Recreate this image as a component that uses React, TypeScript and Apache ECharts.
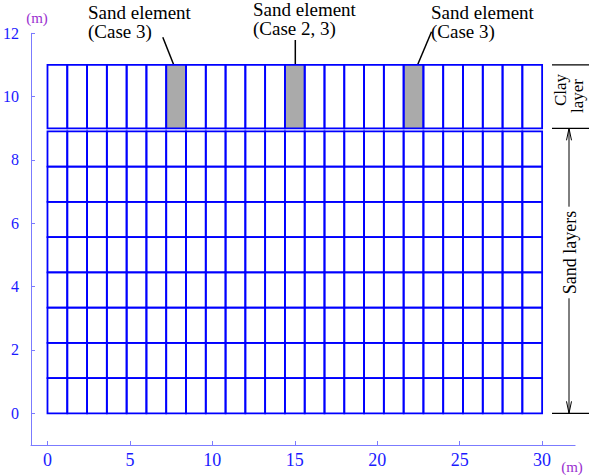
import React, { useEffect, useRef } from "react";
import * as echarts from "echarts";

// Mesh node coordinates (m)
const xNodes = [0, 1.2, 2.4, 3.6, 4.8, 6, 7.2, 8.4, 9.6, 10.8, 12, 13.2, 14.4, 15.6, 16.8, 18, 19.2, 20.4, 21.6, 22.8, 24, 25.2, 26.4, 27.6, 28.8, 30];
const sandLayerNodes = [0, 1.1125, 2.225, 3.3375, 4.45, 5.5625, 6.675, 7.7875, 8.9];
const clayLayerNodes = [9, 11];
// Column indices of the sand elements inside the clay layer
const sandElementColumns = [6, 12, 18];
const sandElementLabels = ["Sand element\n(Case 3)", "Sand element\n(Case 2, 3)", "Sand element\n(Case 3)"];
const xTicks = [0, 5, 10, 15, 20, 25, 30];
const yTicks = [0, 2, 4, 6, 8, 10, 12];

const FONT = "Liberation Serif";
const MESH = "#0000ff";
const AXIS = "#7b7bff";
const LABEL = "#1a1aff";
const UNIT = "#9a2fd0";

export default function App() {
  const ref = useRef<HTMLDivElement>(null);
  useEffect(() => {
    if (!ref.current) return;
    const chart = echarts.init(ref.current, null, { renderer: "svg" });

    const meshCells: number[][] = [];
    for (let i = 0; i < xNodes.length - 1; i++) {
      for (let j = 0; j < sandLayerNodes.length - 1; j++) {
        meshCells.push([xNodes[i], xNodes[i + 1], sandLayerNodes[j], sandLayerNodes[j + 1]]);
      }
      meshCells.push([xNodes[i], xNodes[i + 1], clayLayerNodes[0], clayLayerNodes[1]]);
    }
    const shadedCells = sandElementColumns.map((c) => [xNodes[c], xNodes[c + 1], clayLayerNodes[0], clayLayerNodes[1]]);

    const rectItem = (fill: string, stroke: string, lw: number) => (params: any, api: any) => {
      const p0 = api.coord([api.value(0), api.value(3)]);
      const p1 = api.coord([api.value(1), api.value(2)]);
      return {
        type: "rect",
        shape: { x: p0[0], y: p0[1], width: p1[0] - p0[0], height: p1[1] - p0[1] },
        style: { fill, stroke, lineWidth: lw },
      };
    };

    chart.setOption({
      animation: false,
      backgroundColor: "#ffffff",
      textStyle: { fontFamily: FONT },
      grid: { left: 29.5, right: 13.9, top: 33.3, bottom: 30, containLabel: false },
      xAxis: {
        type: "value",
        min: -1,
        max: 32,
        splitLine: { show: false },
        axisLine: { onZero: false, lineStyle: { color: AXIS, width: 1 } },
        axisTick: { inside: true, length: 4, customValues: xTicks, lineStyle: { color: AXIS } },
        axisLabel: { customValues: xTicks, fontSize: 18, color: LABEL, fontFamily: FONT, margin: 6 },
      },
      yAxis: {
        type: "value",
        min: -1,
        max: 12,
        splitLine: { show: false },
        axisLine: { onZero: false, lineStyle: { color: AXIS, width: 1 } },
        axisTick: { inside: true, length: 4, customValues: yTicks, lineStyle: { color: AXIS } },
        axisLabel: { customValues: yTicks, fontSize: 16, color: LABEL, fontFamily: FONT, margin: 12 },
      },
      series: [
        {
          type: "custom",
          renderItem: rectItem("#aaaaaa", "none", 0),
          data: shadedCells,
          encode: { x: [0, 1], y: [2, 3] },
          silent: true,
        },
        {
          type: "custom",
          renderItem: rectItem("none", MESH, 1.8),
          data: meshCells,
          encode: { x: [0, 1], y: [2, 3] },
          silent: true,
        },
      ],
    });

    const px = (x: number, y: number) => chart.convertToPixel({ gridIndex: 0 }, [x, y]) as number[];
    const graphics: any[] = [];
    const txt = (size: number, fill: string, extra: any) => ({ fontSize: size, fontFamily: FONT, fill, ...extra });

    // Leader line offsets (pixel) and label positions
    const leaderOffsets = [
      { bottom: -2.3, top: -13.3, topY: 37.3, textX: 88, textY: 3 },
      { bottom: 0.5, top: 0.5, topY: 40, textX: 253, textY: 0 },
      { bottom: 4, top: 18, topY: 31.7, textX: 431, textY: 3 },
    ];
    sandElementColumns.forEach((c, k) => {
      const cx = (xNodes[c] + xNodes[c + 1]) / 2;
      const p = px(cx, clayLayerNodes[1]);
      const o = leaderOffsets[k];
      graphics.push({
        type: "line",
        shape: { x1: p[0] + o.bottom, y1: p[1], x2: p[0] + o.top, y2: o.topY },
        style: { stroke: "#000", lineWidth: 1.5 },
      });
      graphics.push({
        type: "text",
        x: o.textX,
        y: o.textY,
        style: txt(19, "#000", { text: sandElementLabels[k], lineHeight: 19, textAlign: "left", textVerticalAlign: "top" }),
      });
    });

    // Right-hand annotations
    const yTop = px(0, clayLayerNodes[1])[1];
    const yMid = px(0, clayLayerNodes[0])[1];
    const yBot = px(0, sandLayerNodes[0])[1];
    [yTop, yMid, yBot].forEach((y) =>
      graphics.push({ type: "line", shape: { x1: 552, y1: y, x2: 589, y2: y }, style: { stroke: "#000", lineWidth: 1.2 } })
    );
    const ax = 569;
    graphics.push({ type: "line", shape: { x1: ax, y1: yMid, x2: ax, y2: 206.7 }, style: { stroke: "#000", lineWidth: 1 } });
    graphics.push({ type: "line", shape: { x1: ax, y1: 298.3, x2: ax, y2: yBot }, style: { stroke: "#000", lineWidth: 1 } });
    graphics.push({ type: "polyline", shape: { points: [[ax - 2.5, yMid + 12], [ax, yMid], [ax + 2.5, yMid + 12]] }, style: { stroke: "#000", fill: "none", lineWidth: 1 } });
    graphics.push({ type: "polyline", shape: { points: [[ax - 2.5, yBot - 12], [ax, yBot], [ax + 2.5, yBot - 12]] }, style: { stroke: "#000", fill: "none", lineWidth: 1 } });
    graphics.push({
      type: "text", x: ax + 1, y: (206.7 + 298.3) / 2, rotation: Math.PI / 2,
      style: txt(18, "#000", { text: "Sand layers", textAlign: "center", textVerticalAlign: "middle" }),
    });
    graphics.push({
      type: "text", x: 560, y: 90, rotation: Math.PI / 2,
      style: txt(17, "#000", { text: "Clay", textAlign: "center", textVerticalAlign: "middle" }),
    });
    graphics.push({
      type: "text", x: 577, y: 96, rotation: Math.PI / 2,
      style: txt(17, "#000", { text: "layer", textAlign: "center", textVerticalAlign: "middle" }),
    });

    // Unit labels
    graphics.push({ type: "text", x: 37, y: 18, style: txt(15, UNIT, { text: "(m)", textAlign: "center", textVerticalAlign: "middle" }) });
    graphics.push({ type: "text", x: 572, y: 467, style: txt(15, UNIT, { text: "(m)", textAlign: "center", textVerticalAlign: "middle" }) });

    chart.setOption({ graphic: graphics });

    return () => chart.dispose();
  }, []);

  return <div ref={ref} style={{ position: "fixed", left: 0, top: 0, width: 589, height: 475, background: "#fff" }} />;
}
